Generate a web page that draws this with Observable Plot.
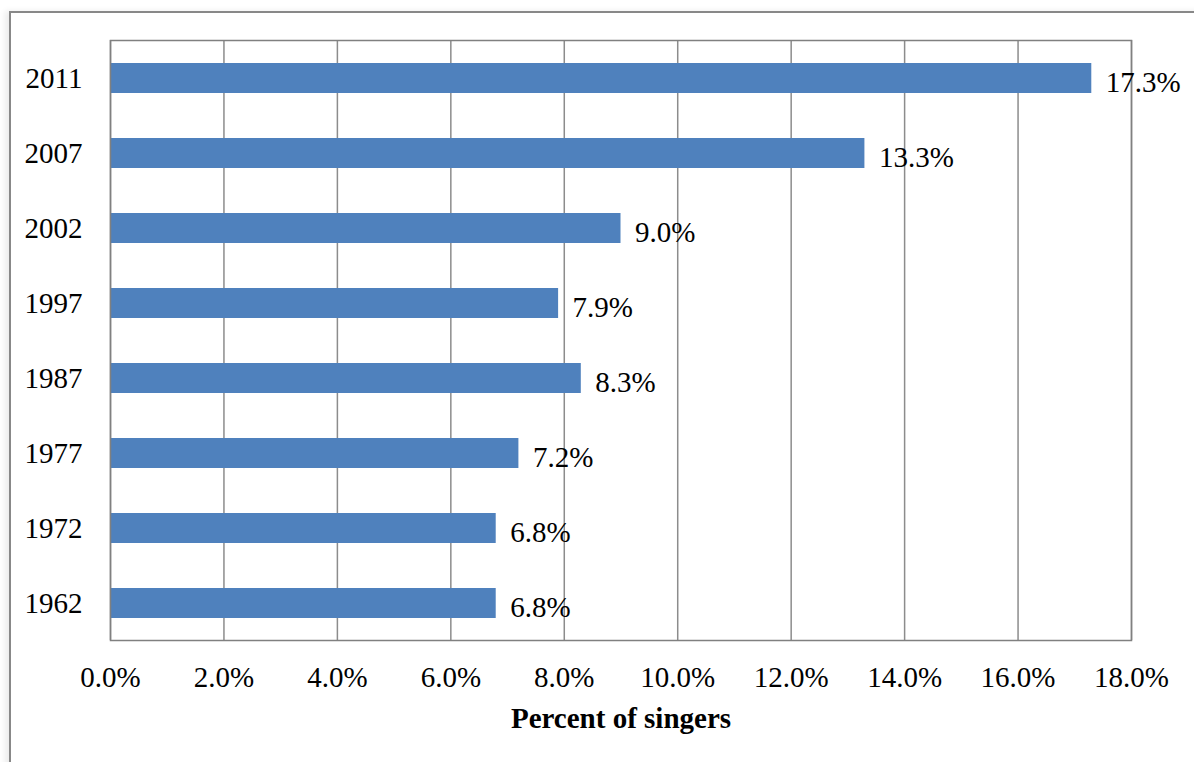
<!DOCTYPE html>
<html>
<head>
<meta charset="utf-8">
<script src="https://cdn.jsdelivr.net/npm/d3@7"></script>
<script src="https://cdn.jsdelivr.net/npm/@observablehq/plot@0.6"></script>
<style>
  html, body { margin: 0; padding: 0; background: #fff; }
  body { width: 1194px; height: 762px; overflow: hidden; position: relative; }
  #frame {
    position: absolute; left: 9px; top: 11px; width: 1200px; height: 800px;
    border-top: 2px solid #888; border-left: 2px solid #888;
    box-shadow: -4px 0 6px rgba(0,0,0,0.08);
  }
  #chart { position: absolute; left: 0; top: 0; }
  #chart svg text { font-family: "Liberation Serif", "Times New Roman", serif; fill: #000; }
</style>
</head>
<body>
<div id="frame"></div>
<div id="chart"></div>
<script>
const years = ["2011", "2007", "2002", "1997", "1987", "1977", "1972", "1962"];
const percents = [17.3, 13.3, 9.0, 7.9, 8.3, 7.2, 6.8, 6.8];
const xTicks = [0, 2, 4, 6, 8, 10, 12, 14, 16, 18];
const xTitle = "Percent of singers";

const data = years.map((y, i) => ({year: y, pct: percents[i]}));
const fmt = d => d.toFixed(1) + "%";

const chart = Plot.plot({
  width: 1194,
  height: 762,
  marginLeft: 110,
  marginRight: 63,
  marginTop: 40,
  marginBottom: 122,
  style: {fontFamily: "Liberation Serif, serif", fontSize: "29px", background: "transparent", color: "#000"},
  x: {domain: [0, 18]},
  y: {domain: years, paddingInner: 0.6, paddingOuter: 0.3},
  marks: [
    Plot.gridX(xTicks, {stroke: "#8c8c8c", strokeOpacity: 1, strokeWidth: 1.5}),
    Plot.barX(data, {x: "pct", y: "year", fill: "#4F81BD"}),
    Plot.frame({stroke: "#808080", strokeWidth: 1.5}),
    Plot.text(data, {x: "pct", y: "year", text: d => fmt(d.pct), textAnchor: "start", dx: 14, dy: 4, fontSize: 29, fontFamily: "Liberation Serif"}),
    Plot.axisY({tickSize: 0, tickPadding: 28, fontSize: 29, label: null}),
    Plot.axisX({ticks: xTicks, tickFormat: fmt, tickSize: 0, tickPadding: 26, fontSize: 29, label: null}),
    Plot.text([xTitle], {frameAnchor: "bottom", dy: 87, text: d => d, fontSize: 29, fontWeight: "bold", fontFamily: "Liberation Serif"})
  ]
});
document.getElementById("chart").appendChild(chart);
</script>
</body>
</html>
